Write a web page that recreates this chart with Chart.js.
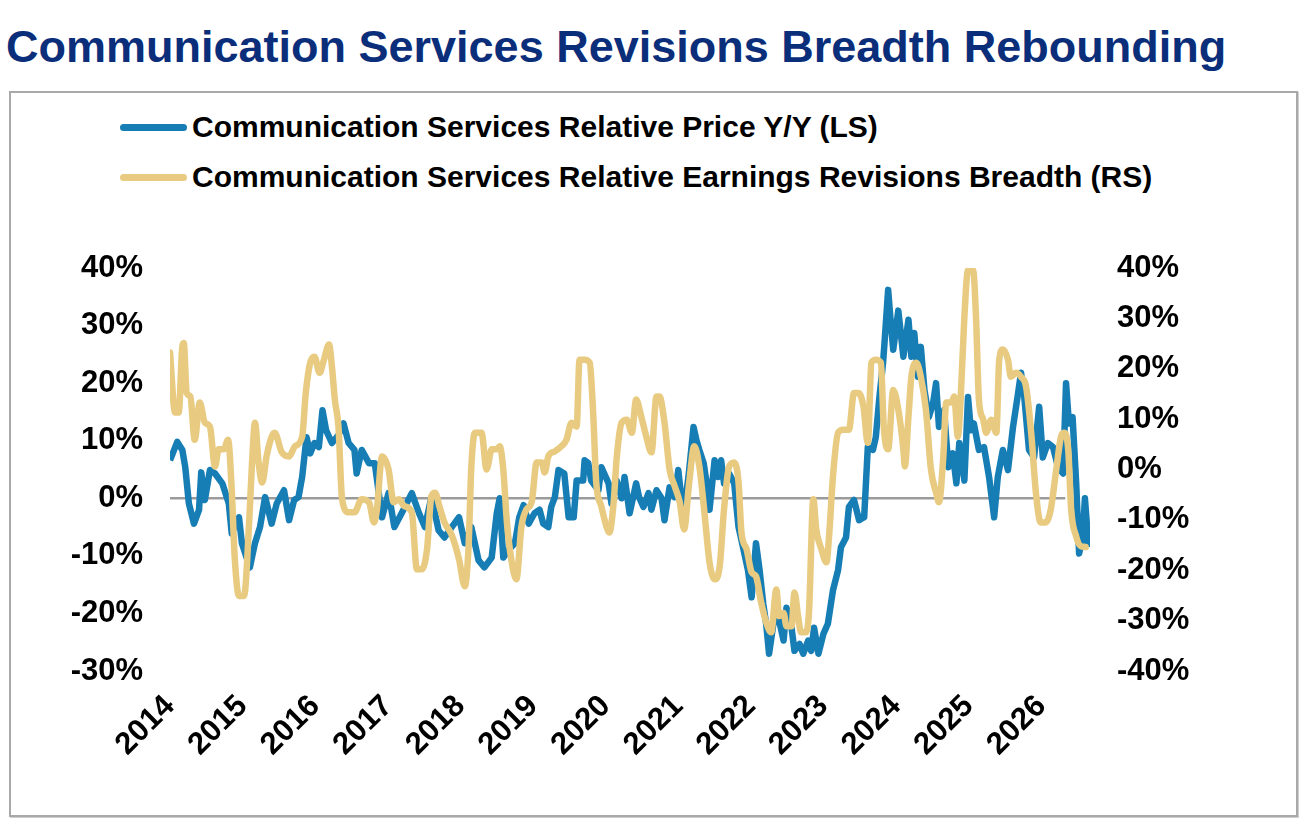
<!DOCTYPE html>
<html>
<head>
<meta charset="utf-8">
<script src="https://cdn.jsdelivr.net/npm/chart.js@4.4.0/dist/chart.umd.min.js"></script>
<style>
  body { margin: 0; background: #fff; font-family: "Liberation Sans", Arial, sans-serif; }
  #wrap { position: relative; width: 1309px; height: 828px; overflow: hidden; }
  h1 { position: absolute; left: 6px; top: 22px; margin: 0; font-size: 45px; line-height: 50px; font-weight: bold; color: #0b2e7b; white-space: nowrap; }
  #box { position: absolute; left: 9px; top: 91px; width: 1285px; height: 722px; border: 2px solid #a9a9a9; box-shadow: 1px 1px 0 #cfcfcf; }
  .leg { position: absolute; left: 120px; font-size: 30px; line-height: 36px; font-weight: bold; color: #000; white-space: nowrap; }
  .leg i { display: inline-block; width: 67px; height: 7px; border-radius: 4px; vertical-align: middle; margin-right: 5px; position: relative; top: -2px; }
  #c { position: absolute; left: 0; top: 0; }
</style>
</head>
<body>
<div id="wrap">
  <h1>Communication Services Revisions Breadth Rebounding</h1>
  <div id="box"></div>
  <div class="leg" style="top:109px"><i style="background:#167db5"></i>Communication Services Relative Price Y/Y (LS)</div>
  <div class="leg" style="top:159px"><i style="background:#e8cb80"></i>Communication Services Relative Earnings Revisions Breadth (RS)</div>
  <canvas id="c" width="1309" height="828"></canvas>
</div>
<script>
// year ticks on the bottom axis
var yearTicks = [2014, 2015, 2016, 2017, 2018, 2019, 2020, 2021, 2022, 2023, 2024, 2025, 2026]

// relative price y/y, left scale (%)
var priceDates = [
  2014.00,2014.10,2014.17,2014.21,2014.26,2014.33,2014.40,2014.43,2014.48,2014.55,2014.62,2014.72,2014.81,2014.85,2014.95,2014.99,
  2015.10,2015.17,2015.24,2015.31,2015.40,2015.47,2015.57,2015.64,2015.71,2015.77,2015.82,2015.88,2015.93,2015.99,
  2016.05,2016.10,2016.15,2016.23,2016.32,2016.39,2016.46,2016.54,2016.57,2016.64,2016.74,2016.82,2016.92,
  2017.01,2017.09,2017.19,2017.33,2017.43,2017.51,2017.60,2017.70,2017.78,2017.88,2017.98,
  2018.06,2018.15,2018.25,2018.33,2018.43,2018.50,2018.54,2018.59,2018.66,2018.75,2018.81,2018.87,2018.94,
  2019.02,2019.09,2019.14,2019.21,2019.25,2019.30,2019.35,2019.43,2019.49,2019.56,2019.60,2019.69,2019.71,2019.76,2019.80,2019.90,2019.94,
  2020.04,2020.08,2020.15,2020.22,2020.26,2020.33,2020.42,2020.46,2020.52,2020.59,2020.63,2020.70,2020.77,2020.81,2020.88,2020.95,
  2021.00,2021.04,2021.08,2021.14,2021.21,2021.25,2021.29,2021.35,2021.39,2021.43,2021.50,2021.55,2021.59,2021.63,2021.70,2021.77,2021.83,2021.90,2021.96,
  2022.01,2022.07,2022.12,2022.17,2022.21,2022.25,2022.31,2022.38,2022.45,2022.49,2022.56,2022.60,2022.67,2022.72,2022.79,2022.83,2022.87,2022.93,
  2023.00,2023.06,2023.13,2023.20,2023.24,2023.31,2023.35,2023.42,2023.49,2023.56,2023.61,2023.68,2023.72,2023.77,2023.82,2023.84,2023.89,2023.92,2023.96,
  2024.03,2024.10,2024.17,2024.21,2024.25,2024.30,2024.34,2024.39,2024.45,2024.51,2024.55,2024.59,2024.66,2024.72,2024.78,2024.83,2024.87,2024.94,2024.99,
  2025.03,2025.07,2025.14,2025.21,2025.28,2025.35,2025.40,2025.47,2025.54,2025.61,2025.68,2025.72,2025.76,2025.83,2025.90,2025.97,
  2026.02,2026.09,2026.16,2026.23,2026.30,2026.34,2026.38,2026.43,2026.48,2026.52,2026.57,2026.60,2026.65
]
var priceValues = [
  6.6,9.8,8.4,5.4,-0.9,-4.4,-2.0,4.5,-0.3,4.9,4.3,2.6,-0.9,-6.1,-3.3,-7.8,
  -12.0,-7.8,-5.0,0.2,-4.4,-0.9,1.4,-3.8,-0.3,0.2,3.7,10.6,7.8,9.6,
  8.9,15.3,11.8,9.6,11.0,13.0,9.6,8.4,4.3,8.4,6.1,6.1,-3.3,
  0.9,-5.0,-2.6,0.9,-2.6,-5.0,0.2,-5.6,-6.8,-5.0,-3.3,
  -7.8,-5.0,-10.8,-12.0,-10.3,-2.6,0.0,-10.3,-9.0,-7.8,-3.3,-1.2,-4.4,
  -2.6,-2.0,-4.4,-5.0,-1.5,0.2,4.9,4.3,-3.3,-3.3,3.1,3.1,6.6,6.1,3.1,1.4,5.4,
  2.6,-0.9,3.1,0.0,3.7,-2.6,2.6,0.2,-1.5,0.9,-2.0,1.4,0.0,-3.8,1.9,0.2,
  4.9,0.2,-2.0,3.7,12.4,10.1,8.4,6.1,2.6,-2.0,6.6,3.7,6.6,2.6,4.3,2.6,-5.0,-9.0,-12.5,
  -17.2,-7.8,-12.5,-18.3,-21.8,-27.0,-21.8,-20.7,-24.7,-19.0,-22.5,-26.5,-25.3,-27.0,-24.7,-26.5,-22.5,-27.0,
  -23.5,-21.8,-16.0,-12.5,-8.5,-6.8,-1.5,-0.3,-3.8,-3.3,8.9,8.4,10.6,17.6,23.5,27.0,36.2,31.5,25.8,
  32.6,24.6,31.0,24.6,28.7,21.1,26.3,18.8,14.1,16.6,20.0,12.4,15.3,5.4,7.8,2.6,9.6,3.1,17.6,
  11.8,13.0,8.4,8.9,3.7,-3.3,3.7,8.4,4.9,12.4,18.3,21.8,18.3,8.4,7.1,15.9,
  7.1,9.6,8.9,5.4,4.3,20.0,13.0,14.1,2.6,-9.6,-6.8,0.0,-8.5
]

// relative earnings revisions breadth, right scale (%)
var revDates = [
  2014.00,2014.07,2014.12,2014.17,2014.19,2014.23,2014.28,2014.34,2014.41,2014.48,2014.55,2014.62,2014.67,2014.74,2014.80,2014.85,2014.89,2014.95,
  2015.02,2015.09,2015.13,2015.17,2015.22,2015.27,2015.33,2015.40,2015.44,2015.54,2015.64,2015.72,2015.82,2015.87,2015.93,2015.99,
  2016.06,2016.12,2016.19,2016.23,2016.27,2016.32,2016.37,2016.46,2016.54,2016.64,2016.74,2016.81,2016.85,2016.92,
  2017.01,2017.08,2017.15,2017.23,2017.33,2017.40,2017.47,2017.54,2017.60,2017.65,2017.71,2017.78,2017.88,2017.98,
  2018.06,2018.11,2018.15,2018.20,2018.29,2018.36,2018.43,2018.50,2018.54,2018.59,2018.64,2018.70,2018.77,2018.84,2018.91,2018.98,
  2019.05,2019.12,2019.16,2019.21,2019.30,2019.39,2019.46,2019.53,2019.60,2019.64,2019.71,2019.78,2019.83,2019.87,2019.94,
  2020.01,2020.05,2020.11,2020.15,2020.22,2020.29,2020.36,2020.42,2020.49,2020.56,2020.63,2020.70,2020.74,2020.81,2020.88,2020.95,
  2021.02,2021.08,2021.15,2021.22,2021.29,2021.36,2021.43,2021.50,2021.57,2021.63,2021.70,2021.77,2021.83,2021.87,2021.94,
  2022.01,2022.07,2022.14,2022.21,2022.28,2022.35,2022.39,2022.45,2022.49,2022.56,2022.60,2022.65,2022.69,2022.76,2022.80,2022.86,2022.90,2022.97,
  2023.04,2023.08,2023.13,2023.20,2023.27,2023.35,2023.42,2023.48,2023.55,2023.61,2023.66,2023.72,2023.79,2023.83,2023.89,2023.96,
  2024.03,2024.10,2024.12,2024.17,2024.21,2024.28,2024.34,2024.41,2024.48,2024.55,2024.59,2024.65,2024.69,2024.76,2024.80,2024.85,2024.89,2024.94,2024.99,
  2025.06,2025.10,2025.14,2025.20,2025.24,2025.31,2025.38,2025.42,2025.47,2025.54,2025.58,2025.65,2025.72,2025.79,2025.86,2025.93,2025.99,
  2026.06,2026.13,2026.20,2026.27,2026.31,2026.37,2026.41,2026.48,2026.54,2026.61
]
var revValues = [
  23.2,11.3,11.3,24.4,25.1,15.2,14.5,5.9,13.3,9.3,8.5,0.6,4.0,4.0,5.9,-4.0,-17.2,-25.1,
  -25.1,-10.5,1.4,9.3,1.4,-2.6,2.6,6.5,7.3,3.4,2.6,4.6,6.5,15.2,21.2,22.4,
  19.2,21.8,24.8,20.4,13.9,8.5,-5.9,-8.5,-8.5,-5.9,-6.5,-10.5,-7.9,2.6,
  0.0,-6.5,-5.9,-7.3,-8.5,-19.8,-19.8,-15.8,-5.3,-4.6,-7.3,-10.5,-13.0,-17.8,
  -23.2,-15.8,0.6,7.3,7.3,0.0,4.0,4.0,4.6,0.0,-10.5,-17.8,-21.8,-11.3,-7.9,-6.5,
  1.4,1.4,-0.6,2.6,3.6,4.6,5.9,9.3,8.5,21.8,21.8,21.2,10.5,-2.6,-7.3,
  -11.3,-12.5,-6.5,2.0,9.3,9.9,7.3,13.9,10.5,6.5,3.4,14.5,14.5,9.3,0.0,-3.3,
  -6.5,-11.9,-2.6,4.6,0.6,-8.5,-18.4,-21.8,-19.2,-7.9,0.6,1.4,-2.6,-12.5,-15.8,
  -20.4,-21.2,-26.3,-30.3,-32.3,-23.8,-29.1,-28.5,-31.1,-31.1,-24.4,-29.1,-32.3,-32.3,-28.3,-5.9,-11.9,-15.8,
  -18.4,-12.5,-1.4,7.3,7.9,7.9,15.2,15.2,12.5,5.3,21.2,21.8,21.2,8.5,4.0,15.8,
  11.9,4.0,0.6,10.5,18.4,21.2,18.4,11.9,0.0,-4.6,-6.5,2.6,13.3,13.3,14.5,6.5,14.5,30.3,39.6,
  39.6,30.3,13.9,9.9,7.3,9.9,7.3,21.8,23.8,21.8,18.4,19.2,18.4,16.4,7.3,-5.3,-10.5,
  -10.5,-7.9,-0.6,6.5,7.3,4.0,-7.9,-13.3,-15.2,-15.4
]

// grey zero line on the left scale
var zeroDates = [2014.00, 2026.33]
var zeroValues = [0, 0]

function pairs(xs, ys) {
  return xs.map(function (x, i) { return { x: x, y: ys[i] } })
}

var tickFont = { family: "'Liberation Sans', Arial, sans-serif", size: 31, weight: 'bold' }

new Chart(document.getElementById('c'), {
  type: 'line',
  data: {
    datasets: [
      {
        label: 'Communication Services Relative Earnings Revisions Breadth (RS)',
        data: pairs(revDates, revValues),
        yAxisID: 'y1',
        borderColor: '#e8cb80',
        borderWidth: 6.5,
        cubicInterpolationMode: 'monotone',
        pointRadius: 0,
        borderCapStyle: 'round',
        borderJoinStyle: 'round',
        order: 1,
      },
      {
        label: 'Communication Services Relative Price Y/Y (LS)',
        data: pairs(priceDates, priceValues),
        yAxisID: 'y',
        borderColor: '#167db5',
        borderWidth: 6.5,
        tension: 0,
        pointRadius: 0,
        borderJoinStyle: 'round',
        order: 2,
      },
      {
        label: 'zero',
        data: pairs(zeroDates, zeroValues),
        yAxisID: 'y',
        borderColor: '#9b9b9b',
        borderWidth: 2.5,
        pointRadius: 0,
        order: 3,
      },
    ],
  },
  options: {
    responsive: false,
    animation: false,
    layout: { padding: { top: 268, left: 0, right: 0, bottom: 0 } },
    plugins: { legend: { display: false }, tooltip: { enabled: false } },
    scales: {
      x: {
        type: 'linear',
        min: 2014,
        max: 2026.67,
        afterBuildTicks: function (s) { s.ticks = yearTicks.map(function (v) { return { value: v } }) },
        afterFit: function (s) { s.height = 157 },
        ticks: {
          autoSkip: false,
          minRotation: 45,
          maxRotation: 45,
          padding: 17,
          color: '#000',
          font: tickFont,
          callback: function (v) { return String(v) },
        },
        grid: { display: false, drawTicks: false },
        border: { display: false },
      },
      y: {
        position: 'left',
        min: -30,
        max: 40,
        afterFit: function (s) { s.width = 170 },
        ticks: { stepSize: 10, padding: 27, color: '#000', font: tickFont, callback: function (v) { return v + '%' } },
        grid: { display: false, drawTicks: false },
        border: { display: false },
      },
      y1: {
        position: 'right',
        min: -40,
        max: 40,
        afterFit: function (s) { s.width = 219 },
        ticks: { stepSize: 10, padding: 27, color: '#000', font: tickFont, callback: function (v) { return v + '%' } },
        grid: { display: false, drawTicks: false },
        border: { display: false },
      },
    },
  },
})
</script>
</body>
</html>
